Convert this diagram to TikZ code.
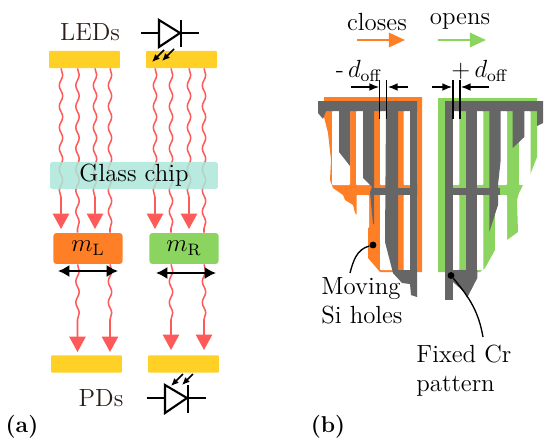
\documentclass[tikz,border=0pt]{standalone}
\usepackage{amsmath,amssymb}
\usepackage{xcolor}
\usetikzlibrary{arrows.meta,decorations.pathmorphing}

\definecolor{barcol}{HTML}{FFD126}
\definecolor{chipcol}{HTML}{ABE6DB}
\definecolor{rayred}{HTML}{FF5A5A}
\definecolor{sicol}{HTML}{FF7F27}
\definecolor{opencol}{HTML}{8BD45F}
\definecolor{crgray}{HTML}{666666}
\definecolor{labelcol}{HTML}{2A1E18}

\tikzset{
  barbox/.style={fill=barcol,rounded corners=.5pt,minimum width=1.306cm,minimum height=.313cm,inner sep=0pt},
  chipbox/.style={fill=chipcol,fill opacity=.85,rounded corners=1pt,minimum width=3.09cm,minimum height=.497cm,inner sep=0pt},
  lab/.style={font=\large,scale=1.083},
  massbox/.style={rounded corners=1.5pt,minimum width=1.173cm,minimum height=.526cm,inner sep=0pt,lab},
  ray/.style={rayred,line width=.8pt,decorate,decoration={snake,amplitude=.9pt,segment length=11pt}},
  rayend/.style={rayred,line width=.8pt,decorate,decoration={snake,amplitude=.9pt,segment length=11pt,post length=14pt},-{Triangle[length=8pt,width=8.5pt]}},
  motion/.style={line width=1.2pt,{Latex[length=6pt,width=6.5pt]}-{Latex[length=6pt,width=6.5pt]}},
  diode/.style={line width=1.1pt},
  lightin/.style={line width=.9pt,-{Latex[length=4pt,width=3.5pt]}},
  offs/.style={line width=.6pt,-{Latex[length=5pt,width=4pt]}},
  dirarrow/.style={line width=1.3pt,-{Triangle[length=8.5pt,width=7.5pt]}},
  dotn/.style={circle,fill=black,minimum size=3.6pt,inner sep=0pt},
  lead/.style={line width=.7pt}
}

\begin{document}
\begin{tikzpicture}[x=.0184cm,y=-.0184cm]
  \useasboundingbox (0,0) rectangle (550,447);
  % panel a
  \node[barbox] (ledL) at (84.5,59.5) {};
  \node[barbox] (ledR) at (181.5,59.5) {};
  \node[barbox] (pdL) at (86.5,364) {};
  \node[barbox] (pdR) at (183.5,364) {};
  \coordinate (tipA) at (61,229);
  \coordinate (tipB) at (95,229);
  \coordinate (tipC) at (155,229);
  \coordinate (tipD) at (189,229);
  \coordinate (tipE) at (77.5,352);
  \coordinate (tipF) at (110,352);
  \coordinate (tipG) at (171,350);
  \coordinate (tipH) at (204,350);
  \draw[rayend] (ledL.south -| tipA) -- (tipA);
  \draw[rayend] (ledL.south -| tipB) -- (tipB);
  \draw[rayend] (ledR.south -| tipC) -- (tipC);
  \draw[rayend] (ledR.south -| tipD) -- (tipD);
  \node[massbox,fill=sicol] (mL) at (88,248.5) {$m_{\mathrm{L}}$};
  \node[massbox,fill=opencol] (mR) at (184,248.5) {$m_{\mathrm{R}}$};
  \draw[ray] (ledL.south -| tipE) -- (mL.north -| tipE);
  \draw[ray] (ledL.south -| tipF) -- (mL.north -| tipF);
  \draw[ray] (ledR.south -| tipG) -- (mR.north -| tipG);
  \draw[ray] (ledR.south -| tipH) -- (mR.north -| tipH);
  \draw[rayend] (mL.south -| tipE) -- (tipE);
  \draw[rayend] (mL.south -| tipF) -- (tipF);
  \draw[rayend] (mR.south -| tipG) -- (tipG);
  \draw[rayend] (mR.south -| tipH) -- (tipH);
  \node[chipbox] (chip) at (134,175.5) {};
  \node[lab] (chiptext) at (chip) {Glass chip};
  \coordinate (moveLa) at (58,271);
  \coordinate (moveLb) at (118,271);
  \coordinate (moveRa) at (156,273);
  \coordinate (moveRb) at (216,273);
  \draw[motion] (moveLa) -- (moveLb);
  \draw[motion] (moveRa) -- (moveRb);
  \node[lab,text=labelcol] (leds) at (90,32) {LEDs};
  \node[lab,text=labelcol] (pds) at (101,398) {PDs};
  % diodes
  \draw[diode] (141,33) -- (199,33);
  \draw[diode,fill=white] (159,20) -- (180,33) -- (159,47) -- cycle;
  \draw[diode] (181,20) -- (181,47);
  \draw[lightin] (164,50) -- (152,62);
  \draw[lightin] (174,49) -- (162,61);
  \draw[diode] (147,398) -- (206,398);
  \draw[diode,fill=white] (165,385) -- (187,398) -- (165,413) -- cycle;
  \draw[diode] (188,385) -- (188,413);
  \draw[lightin] (183,374) -- (171,386);
  \draw[lightin] (193,374) -- (182,385);
  \node[font=\large\bfseries] (tagA) at (22,427) {(a)};
  % panel b, header
  \node[lab] (closes) at (377,22) {closes};
  \node[lab] (opens) at (460,21) {opens};
  \coordinate (closeA) at (357,40);
  \coordinate (closeB) at (405,40);
  \coordinate (openA) at (438,40);
  \coordinate (openB) at (486,40);
  \draw[dirarrow,sicol] (closeA) -- (closeB);
  \draw[dirarrow,opencol] (openA) -- (openB);
  % moving Si holes, closing side
  \fill[sicol] (324,97) -- (422,97) -- (422,272) -- (380,272) -- (368,258) -- (368,225) -- (355,213) -- (353,205) -- (345,200) -- (343,195) -- (333,188) -- (330,180) -- (331,160) -- (328,133) -- (324,117) -- cycle;
  \fill[white,rounded corners=.5pt] (332,111) rectangle (350,185);
  \fill[white,rounded corners=.5pt] (356,111) rectangle (370,185);
  \fill[white,rounded corners=.5pt] (380,111) rectangle (393,185);
  \fill[white,rounded corners=.5pt] (403.5,111) rectangle (417,185);
  \fill[white,rounded corners=.5pt] (356.5,195) rectangle (369,228);
  \fill[white,rounded corners=.5pt] (380,195) rectangle (393,270);
  \fill[white,rounded corners=.5pt] (403.5,195) rectangle (417,270);
  % fixed Cr, closing side
  \fill[crgray] (318,101) -- (417,101) -- (417,111) -- (326,111) -- (323,119) -- (318,113) -- cycle;
  \fill[crgray] (339,111) -- (350,111) -- (350,166) -- (339,152) -- cycle;
  \fill[crgray] (363,111) -- (374,111) -- (374,224) -- (373,224) -- (370,192) -- (372,187) -- (363,178) -- cycle;
  \fill[crgray] (386,111) -- (398,111) -- (398,278) -- (393,273) -- (385,242) -- cycle;
  \fill[crgray] (410,111) -- (417,111) -- (417,297) -- (411,295) -- (410,284) -- (402,283) -- (393,273) -- (393,270) -- (410,270) -- cycle;
  \fill[crgray] (372,188) rectangle (417,195);
  % moving Si holes, opening side
  \fill[opencol] (438,98) -- (537,98) -- (537,157) -- (530,175) -- (523,185) -- (519,193) -- (517,200) -- (518,232) -- (507,240) -- (495,246) -- (495,250) -- (485,268) -- (480,272) -- (438,272) -- cycle;
  \fill[white,rounded corners=.5pt] (445,111) rectangle (459.3,185);
  \fill[white,rounded corners=.5pt] (468,111) rectangle (483.3,185);
  \fill[white,rounded corners=.5pt] (492,111) rectangle (507,185);
  \fill[white,rounded corners=.5pt] (519,111) rectangle (530.7,185);
  \fill[white,rounded corners=.5pt] (445,195) rectangle (459.3,270);
  \fill[white,rounded corners=.5pt] (468,195) rectangle (483.3,270);
  \fill[white,rounded corners=.5pt] (495,195) rectangle (507,250);
  % fixed Cr, opening side
  \fill[crgray] (445,101) -- (543,101) -- (543,123) -- (537,126) -- (537,111) -- (445,111) -- cycle;
  \fill[crgray] (445,101) rectangle (453.3,300);
  \fill[crgray] (465.7,111) rectangle (477.3,278);
  \fill[crgray] (489.3,111) -- (500.7,111) -- (500.7,160) -- (498,185) -- (498,205) -- (489.3,232) -- cycle;
  \fill[crgray] (512.7,111) -- (524.3,111) -- (524.3,137) -- (512.7,148) -- cycle;
  \fill[crgray] (445,188) rectangle (500,195);
  \fill[crgray] (445,270) -- (477.3,270) -- (477.3,278) -- (467,298) -- (464,292) -- (453,282) -- (445,282) -- cycle;
  % offsets
  \node[lab] (doffL) at (359,71) {-\,$d_{\mathrm{off}}$};
  \node[lab] (doffR) at (480,71) {$+\,d_{\mathrm{off}}$};
  \draw[line width=.6pt] (379.5,80) -- (379.5,119);
  \draw[line width=.6pt] (386.5,80) -- (386.5,119);
  \draw[line width=.6pt] (453,80) -- (453,119);
  \draw[line width=.6pt] (460,80) -- (460,119);
  \coordinate (offA) at (351,87);
  \coordinate (offB) at (379,87);
  \coordinate (offC) at (408,87);
  \coordinate (offD) at (388,87);
  \coordinate (offE) at (432,87);
  \coordinate (offF) at (452,87);
  \coordinate (offG) at (489,87);
  \coordinate (offH) at (461,87);
  \draw[offs] (offA) -- (offB);
  \draw[offs] (offC) -- (offD);
  \draw[offs] (offE) -- (offF);
  \draw[offs] (offG) -- (offH);
  % callouts
  \node[dotn] (dotSi) at (373,245) {};
  \node[dotn] (dotCr) at (451,275.5) {};
  \node[lab,align=left,anchor=north west,inner sep=0pt] (silab) at (321,277) {Moving\\Si holes};
  \node[lab,align=left,anchor=north west,inner sep=0pt] (crlab) at (416,345) {Fixed Cr\\pattern};
  \coordinate (siEnd) at (350,273);
  \coordinate (crEnd) at (483,337);
  \draw[lead] (dotSi) to[out=195,in=75] (siEnd);
  \draw[lead] (dotCr) to[out=-50,in=100] (crEnd);
  \node[font=\large\bfseries] (tagB) at (328,427) {(b)};
\end{tikzpicture}
\end{document}
